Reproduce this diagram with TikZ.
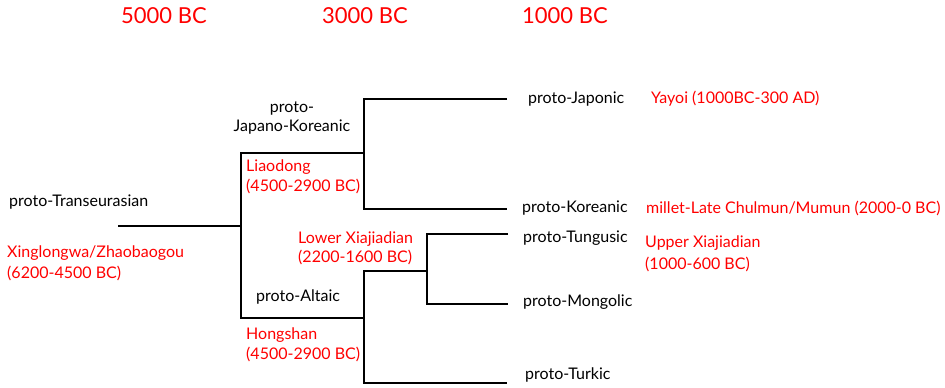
\documentclass[tikz,border=0pt]{standalone}
\usepackage{fontspec}
\setmainfont{Lato}
\begin{document}
\begin{tikzpicture}[x=1pt,y=-1pt,
  lbl/.style={inner sep=0pt,anchor=west,font=\fontsize{16}{20}\selectfont,align=left},
  era/.style={lbl,text=red},
  hdr/.style={inner sep=0pt,text=red,font=\fontsize{22}{26}\selectfont},
  branch/.style={line width=1.6pt,black}]
\useasboundingbox (0,0) rectangle (945,388);
% headers
\node[hdr] (h5) at (164,16) {5000 BC};
\node[hdr] (h3) at (365,16) {3000 BC};
\node[hdr] (h1) at (565,16) {1000 BC};
% labels
\node[lbl] (pte) at (9,202) {proto-Transeurasian};
\node[era,font=\fontsize{16}{21}\selectfont] (xing) at (7,263.5) {Xinglongwa/Zhaobaogou\\(6200-4500 BC)};
\node[lbl,anchor=center,align=center,font=\fontsize{16}{19}\selectfont] (pjk) at (292,118.5) {proto-\\Japano-Koreanic};
\node[era] (liao) at (246,177) {Liaodong\\(4500-2900 BC)};
\node[era,font=\fontsize{16}{19}\selectfont] (lxj) at (298,248.5) {Lower Xiajiadian\\(2200-1600 BC)};
\node[lbl] (pal) at (256,297) {proto-Altaic};
\node[era] (hong) at (246,345) {Hongshan\\(4500-2900 BC)};
\node[lbl] (pjap) at (528,99) {proto-Japonic};
\node[era] (yay) at (651,99) {Yayoi (1000BC-300 AD)};
\node[lbl] (pkor) at (522,208) {proto-Koreanic};
\node[era] (mil) at (646,208) {millet-Late Chulmun/Mumun (2000-0 BC)};
\node[lbl] (ptun) at (523,238) {proto-Tungusic};
\node[era,font=\fontsize{16}{22}\selectfont] (uxj) at (645,254) {Upper Xiajiadian\\(1000-600 BC)};
\node[lbl] (pmon) at (523,302) {proto-Mongolic};
\node[lbl] (ptur) at (525,375) {proto-Turkic};
% tree junctions and leaf ends
\coordinate (r0) at (118,226);
\coordinate (r) at (241,226);
\coordinate (jk) at (364,153);
\coordinate (al) at (364,318);
\coordinate (tm) at (427,271);
\coordinate (ljap) at (507,99);
\coordinate (lkor) at (507,209);
\coordinate (ltun) at (508,234);
\coordinate (lmon) at (508,304);
\coordinate (ltur) at (507,383);
\draw[branch] (r0) -- (r);
\draw[branch] (jk) -| (r) |- (al);
\draw[branch] (ljap) -| (jk) |- (lkor);
\draw[branch] (tm) -| (al) |- (ltur);
\draw[branch] (ltun) -| (tm) |- (lmon);
\end{tikzpicture}
\end{document}
